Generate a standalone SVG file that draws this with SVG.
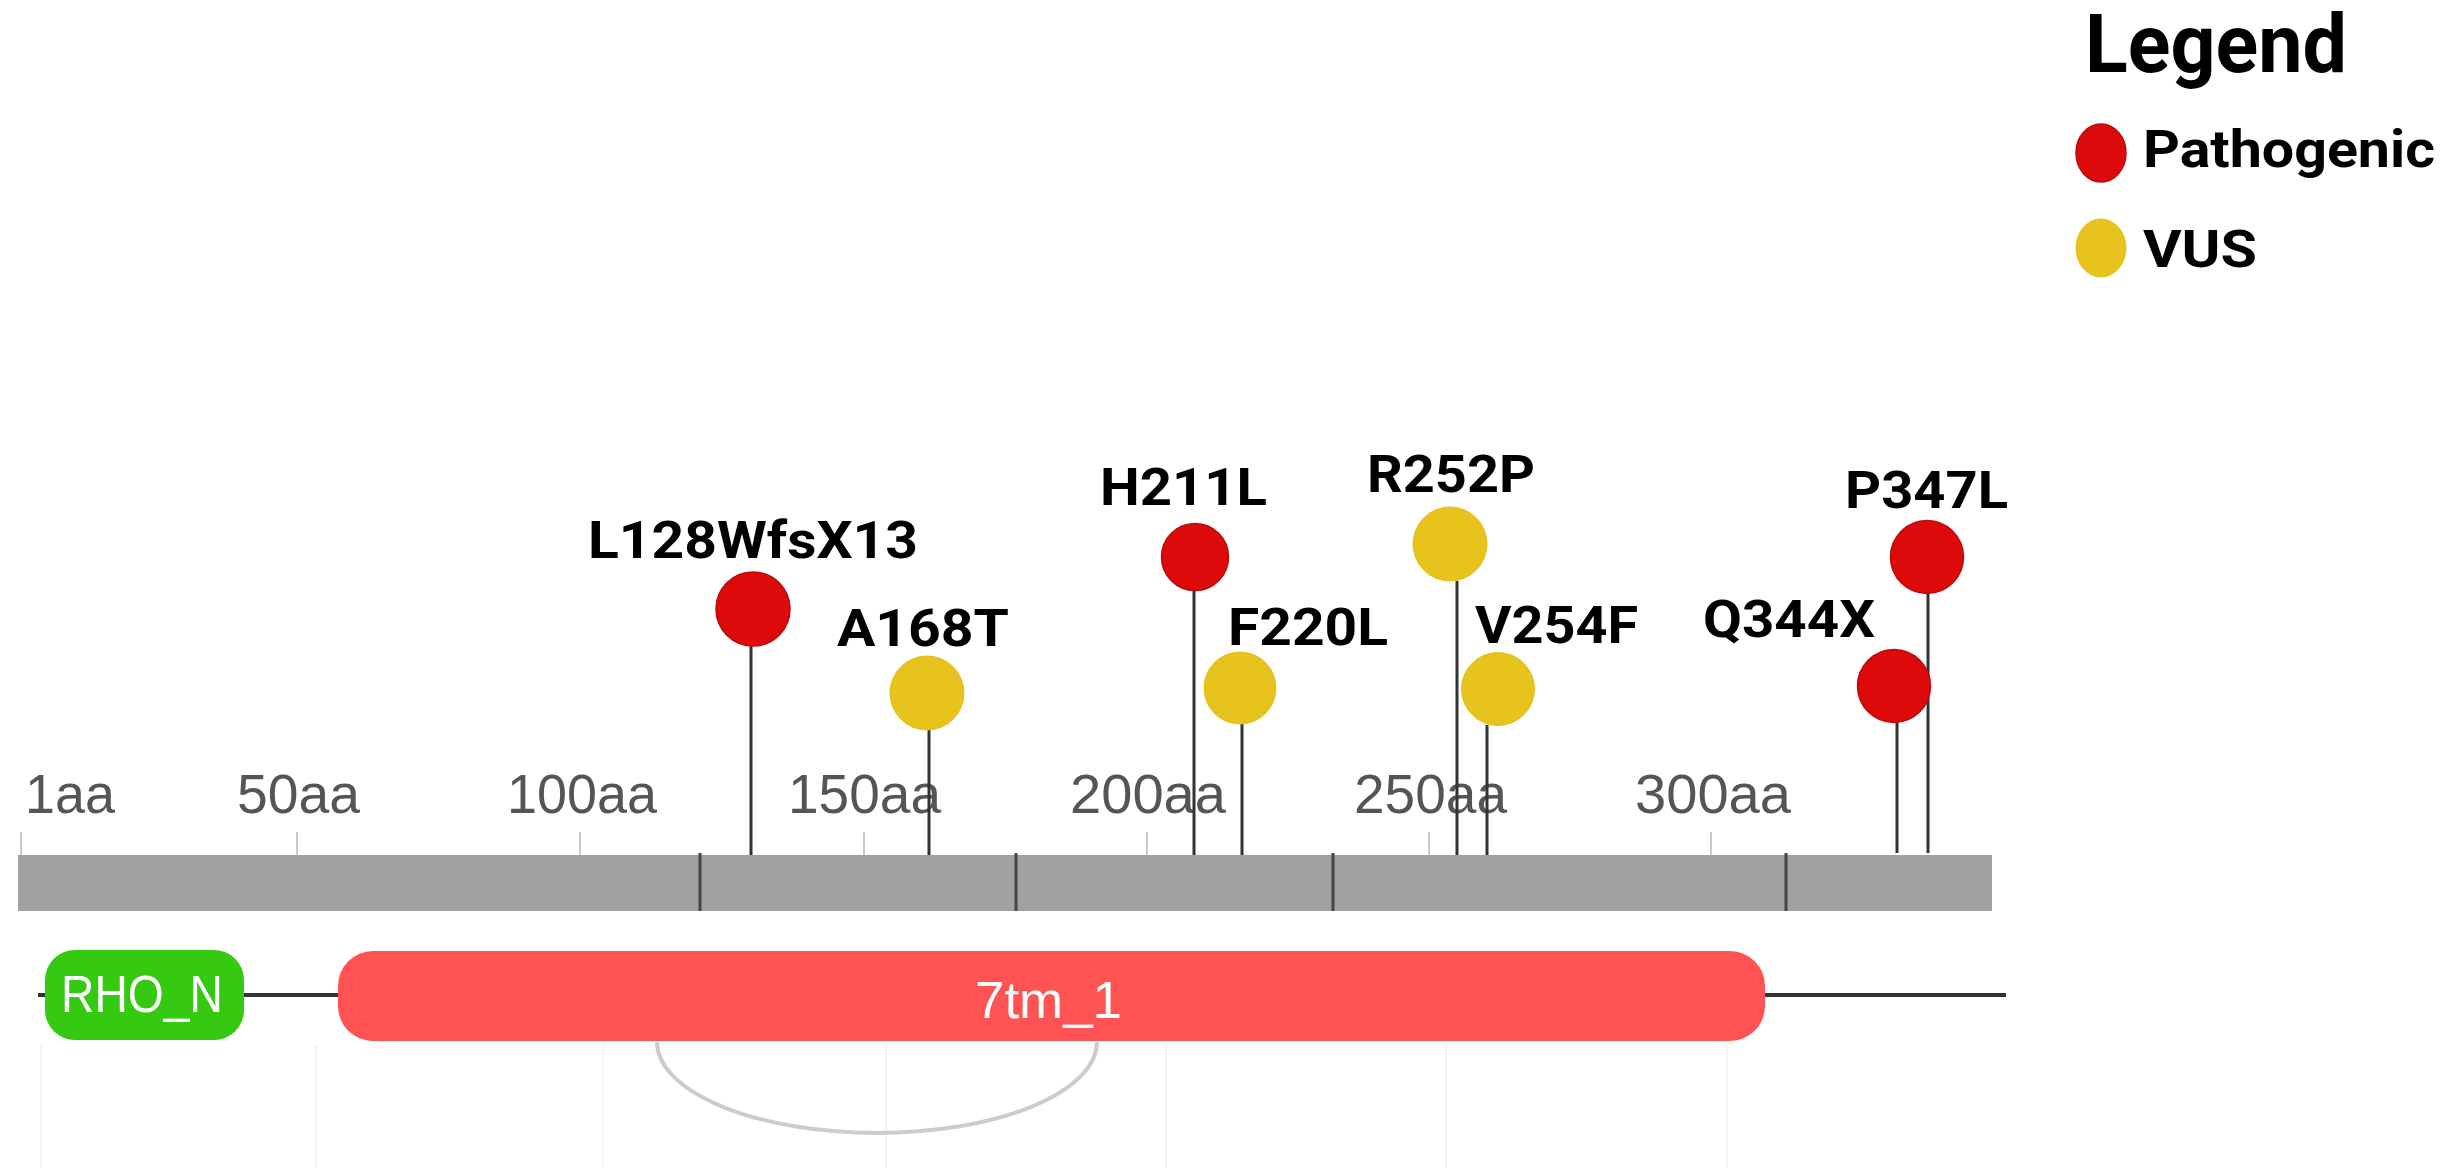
<svg xmlns="http://www.w3.org/2000/svg" width="2445" height="1168" viewBox="0 0 2445 1168">
<style>
.lbl{font-family:Roboto,"Liberation Sans",sans-serif;font-weight:700;font-size:52px;fill:#000;}
.axis{font-family:"Liberation Sans",Arial,sans-serif;font-size:55px;fill:#555;}
.tick{stroke:#c8c8c8;stroke-width:2;}
.sep{stroke:#454545;stroke-width:3;}
.stem{stroke:#333;stroke-width:3;}
.path{fill:#dc0a0a;stroke:#b80b0b;stroke-width:1.5;}
.vus{fill:#e6c31d;stroke:#e2c018;stroke-width:1;}
.grid{stroke:#f2f2f2;stroke-width:1.5;}
.dom{font-family:"Liberation Sans",Arial,sans-serif;font-size:52px;fill:#fff;}
</style>
<rect width="2445" height="1168" fill="#fff"/>

<g id="gridlines">
<line class="grid" x1="41" y1="1045" x2="41" y2="1168"/>
<line class="grid" x1="316" y1="1045" x2="316" y2="1168"/>
<line class="grid" x1="603" y1="1045" x2="603" y2="1168"/>
<line class="grid" x1="886" y1="1045" x2="886" y2="1168"/>
<line class="grid" x1="1166" y1="1045" x2="1166" y2="1168"/>
<line class="grid" x1="1446" y1="1045" x2="1446" y2="1168"/>
<line class="grid" x1="1727" y1="1045" x2="1727" y2="1168"/>
</g>

<g id="legend">
<text x="2085" y="72" font-family="Roboto,'Liberation Sans',sans-serif" font-weight="700" font-size="82" fill="#000" textLength="262" lengthAdjust="spacingAndGlyphs">Legend</text>
<ellipse class="path" cx="2101" cy="153" rx="25" ry="29"/>
<text class="lbl" x="2143" y="167" textLength="292" lengthAdjust="spacingAndGlyphs">Pathogenic</text>
<ellipse class="vus" cx="2101" cy="248" rx="25" ry="29"/>
<text class="lbl" x="2143" y="267" textLength="114" lengthAdjust="spacingAndGlyphs">VUS</text>
</g>

<g id="axis">
<line class="tick" x1="21" y1="832" x2="21" y2="855"/>
<line class="tick" x1="297" y1="832" x2="297" y2="855"/>
<line class="tick" x1="580" y1="832" x2="580" y2="855"/>
<line class="tick" x1="864" y1="832" x2="864" y2="855"/>
<line class="tick" x1="1147" y1="832" x2="1147" y2="855"/>
<line class="tick" x1="1429" y1="832" x2="1429" y2="855"/>
<line class="tick" x1="1711" y1="832" x2="1711" y2="855"/>
<text class="axis" x="25" y="813" textLength="90" lengthAdjust="spacingAndGlyphs">1aa</text>
<text class="axis" x="237" y="813" textLength="123" lengthAdjust="spacingAndGlyphs">50aa</text>
<text class="axis" x="507" y="813" textLength="150" lengthAdjust="spacingAndGlyphs">100aa</text>
<text class="axis" x="788" y="813" textLength="153" lengthAdjust="spacingAndGlyphs">150aa</text>
<text class="axis" x="1070" y="813" textLength="156" lengthAdjust="spacingAndGlyphs">200aa</text>
<text class="axis" x="1354" y="813" textLength="153" lengthAdjust="spacingAndGlyphs">250aa</text>
<text class="axis" x="1635" y="813" textLength="156" lengthAdjust="spacingAndGlyphs">300aa</text>
</g>

<g id="protein-bar">
<rect x="18" y="855" width="1974" height="56" fill="#a1a1a1"/>
<line class="sep" x1="700" y1="853" x2="700" y2="911"/>
<line class="sep" x1="1016" y1="853" x2="1016" y2="911"/>
<line class="sep" x1="1333" y1="853" x2="1333" y2="911"/>
<line class="sep" x1="1786" y1="853" x2="1786" y2="911"/>
</g>

<g id="connectors">
<line class="stem" x1="751" y1="646" x2="751" y2="855"/>
<line class="stem" x1="929" y1="730" x2="929" y2="855"/>
<line class="stem" x1="1194" y1="590" x2="1194" y2="855"/>
<line class="stem" x1="1242" y1="724" x2="1242" y2="855"/>
<line class="stem" x1="1457" y1="581" x2="1457" y2="855"/>
<line class="stem" x1="1487" y1="725" x2="1487" y2="855"/>
<line class="stem" x1="1897" y1="722" x2="1897" y2="853"/>
<line class="stem" x1="1928" y1="593" x2="1928" y2="853"/>
<path d="M657,1042 A220,91 0 0 0 1097,1042" fill="none" stroke="#cccccc" stroke-width="4"/>
</g>

<g id="mut-L128WfsX13">
<circle class="path" cx="753" cy="609" r="37"/>
<text class="lbl" x="588" y="558" textLength="330" lengthAdjust="spacingAndGlyphs">L128WfsX13</text>
</g>
<g id="mut-A168T">
<circle class="vus" cx="927" cy="693" r="37"/>
<text class="lbl" x="837" y="646" textLength="172" lengthAdjust="spacingAndGlyphs">A168T</text>
</g>
<g id="mut-H211L">
<circle class="path" cx="1195" cy="557" r="33.5"/>
<text class="lbl" x="1100" y="505" textLength="167" lengthAdjust="spacingAndGlyphs">H211L</text>
</g>
<g id="mut-F220L">
<circle class="vus" cx="1240" cy="688" r="36"/>
<text class="lbl" x="1228" y="645" textLength="160" lengthAdjust="spacingAndGlyphs">F220L</text>
</g>
<g id="mut-R252P">
<circle class="vus" cx="1450" cy="544" r="37"/>
<text class="lbl" x="1367" y="492" textLength="168" lengthAdjust="spacingAndGlyphs">R252P</text>
</g>
<g id="mut-V254F">
<circle class="vus" cx="1498" cy="689" r="36.5"/>
<text class="lbl" x="1475" y="643" textLength="163" lengthAdjust="spacingAndGlyphs">V254F</text>
</g>
<g id="mut-Q344X">
<circle class="path" cx="1894" cy="686" r="36.5"/>
<text class="lbl" x="1703" y="637" textLength="172" lengthAdjust="spacingAndGlyphs">Q344X</text>
</g>
<g id="mut-P347L">
<circle class="path" cx="1927" cy="557" r="36.5"/>
<text class="lbl" x="1845" y="508" textLength="163" lengthAdjust="spacingAndGlyphs">P347L</text>
</g>

<g id="domain-track">
<line x1="38" y1="995" x2="2006" y2="995" stroke="#333" stroke-width="4"/>
</g>
<g id="domain-RHO_N">
<rect x="45" y="950" width="199" height="90" rx="30" ry="30" fill="#35c912"/>
<text class="dom" x="61" y="1012" font-size="49" textLength="162" lengthAdjust="spacingAndGlyphs">RHO_N</text>
</g>
<g id="domain-7tm_1">
<rect x="338" y="951" width="1427" height="90" rx="35" ry="35" fill="#ff5353"/>
<text class="dom" x="975" y="1018" font-size="58" textLength="147" lengthAdjust="spacingAndGlyphs">7tm_1</text>
</g>
</svg>
